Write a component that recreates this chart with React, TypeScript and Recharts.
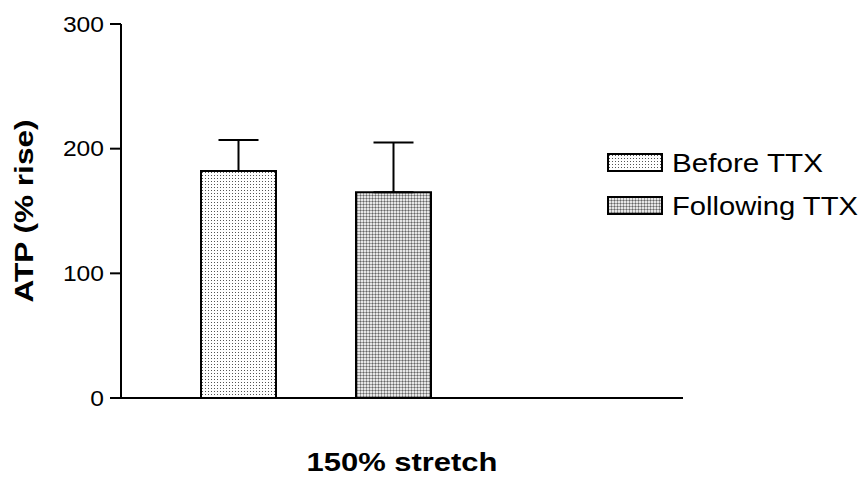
import React from 'react';
import { BarChart, Bar, XAxis, YAxis, ErrorBar } from 'recharts';

const categories = ['150% stretch'];
const seriesNames = ['Before TTX', 'Following TTX'];
const beforeValues = [182];
const beforeErrors = [25];
const followingValues = [165];
const followingErrors = [40];
const yTicks = [0, 100, 200, 300];
const yLabel = 'ATP (% rise)';
const xLabel = '150% stretch';

const data = categories.map((name, i) => ({
  name,
  before: beforeValues[i],
  beforeErr: [0, beforeErrors[i]],
  following: followingValues[i],
  followingErr: [0, followingErrors[i]],
}));

const FONT = '"Liberation Sans", Arial, Helvetica, sans-serif';
const patterns = ['url(#patBefore)', 'url(#patFollowing)'];
const legendTextLengths = [151, 186];

const LegendBlock = () => (
  <div style={{ position: 'absolute', left: 599, top: 139, width: 264, height: 100 }}>
    <svg width={264} height={100} style={{ display: 'block', overflow: 'visible' }}>
      {seriesNames.map((n, i) => (
        <g key={n} transform={`translate(0, ${i * 43})`}>
          <rect x={9} y={15} width={54} height={17} fill={patterns[i]} stroke="#000" strokeWidth={2} />
          <text
            x={73}
            y={33}
            fontFamily={FONT}
            fontSize={25}
            textLength={legendTextLengths[i]}
            lengthAdjust="spacingAndGlyphs"
            fill="#000"
          >
            {n}
          </text>
        </g>
      ))}
    </svg>
  </div>
);

const YTick = (props: any) => {
  const { x, y, payload } = props;
  return (
    <text
      x={0}
      y={0}
      dy="0.355em"
      textAnchor="end"
      transform={`translate(${x},${y}) scale(1.12,1)`}
      fontFamily={FONT}
      fontSize={22}
      fill="#000"
    >
      {payload.value}
    </text>
  );
};

export default function App() {
  return (
    <div style={{ position: 'absolute', left: 0, top: 0, width: 863, height: 479, background: '#fff' }}>
      <BarChart
        width={863}
        height={479}
        data={data}
        margin={{ top: 24, right: 180, bottom: 0, left: 0 }}
        barSize={75}
        barGap={80}
        barCategoryGap={0}
      >
        <defs>
          <pattern id="patBefore" width={3} height={3} patternUnits="userSpaceOnUse">
            <rect width={3} height={3} fill="#fff" />
            <rect x={1} y={1} width={1} height={1} fill="#555" />
          </pattern>
          <pattern id="patFollowing" width={3} height={3} patternUnits="userSpaceOnUse">
            <rect width={3} height={3} fill="#e6e6e6" />
            <rect x={0} y={0} width={3} height={1} fill="#a0a0a0" />
            <rect x={0} y={0} width={1} height={3} fill="#a0a0a0" />
            <rect x={0} y={0} width={1} height={1} fill="#666" />
          </pattern>
        </defs>
        <XAxis
          dataKey="name"
          tick={false}
          tickLine={false}
          axisLine={{ stroke: '#000', strokeWidth: 2 }}
          height={81}
          padding={{ left: 79, right: 251 }}
          label={{
            content: (props: any) => {
              const vb = props.viewBox;
              return (
                <text
                  x={vb.x + vb.width / 2}
                  y={vb.y + 73}
                  textAnchor="middle"
                  fontFamily={FONT}
                  fontWeight="bold"
                  fontSize={26}
                  textLength={191}
                  lengthAdjust="spacingAndGlyphs"
                  fill="#000"
                >
                  {xLabel}
                </text>
              );
            },
          }}
        />
        <YAxis
          domain={[0, 300]}
          ticks={yTicks}
          width={121}
          tickSize={11}
          tickMargin={6}
          interval={0}
          axisLine={{ stroke: '#000', strokeWidth: 2 }}
          tickLine={{ stroke: '#000', strokeWidth: 2 }}
          tick={<YTick />}
          label={{
            content: (props: any) => {
              const vb = props.viewBox;
              const cx = vb.x + 33;
              const cy = vb.y + vb.height / 2;
              return (
                <text
                  x={cx}
                  y={cy}
                  transform={`rotate(-90, ${cx}, ${cy})`}
                  textAnchor="middle"
                  fontFamily={FONT}
                  fontWeight="bold"
                  fontSize={26}
                  textLength={183}
                  lengthAdjust="spacingAndGlyphs"
                  fill="#000"
                >
                  {yLabel}
                </text>
              );
            },
          }}
        />
        <Bar dataKey="before" name={seriesNames[0]} fill={patterns[0]} stroke="#000" strokeWidth={2} isAnimationActive={false}>
          <ErrorBar dataKey="beforeErr" direction="y" width={20} stroke="#000" strokeWidth={2} />
        </Bar>
        <Bar dataKey="following" name={seriesNames[1]} fill={patterns[1]} stroke="#000" strokeWidth={2} isAnimationActive={false}>
          <ErrorBar dataKey="followingErr" direction="y" width={20} stroke="#000" strokeWidth={2} />
        </Bar>
      </BarChart>
      <LegendBlock />
    </div>
  );
}
